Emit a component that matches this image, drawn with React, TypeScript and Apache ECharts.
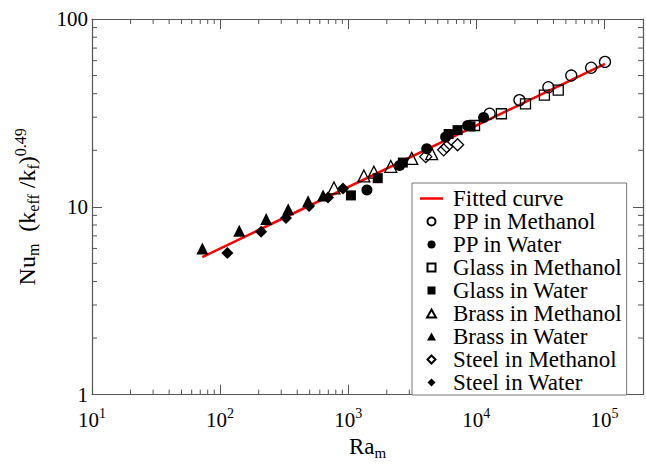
import React, { useEffect, useRef } from "react";
import * as echarts from "echarts";

// ---- Data (Ra_m, Nu_m (k_eff/k_f)^0.49) ----
const ppMethanolRa = [12700, 21700, 36500, 55100, 78800, 101000];
const ppMethanolNu = [31.3, 37.0, 43.3, 50.0, 55.0, 59.1];

const ppWaterRa = [1400, 2520, 4100, 5760, 8550, 11400];
const ppWaterNu = [12.3, 16.6, 20.4, 23.5, 27.1, 29.9];

const glassMethanolRa = [9680, 15700, 24200, 34000, 43600];
const glassMethanolNu = [27.1, 31.3, 35.3, 39.3, 41.8];

const glassWaterRa = [1050, 1700, 2670, 6080, 7140, 9010];
const glassWaterNu = [11.5, 14.2, 17.2, 24.4, 25.6, 26.8];

const brassMethanolRa = [774, 1325, 1585, 2150, 3130, 4480];
const brassMethanolNu = [12.6, 14.6, 15.3, 16.4, 18.1, 19.2];

const brassWaterRa = [72.7, 141, 229, 340, 486, 636];
const brassWaterNu = [6.0, 7.46, 8.61, 9.7, 10.7, 11.5];

const steelMethanolRa = [4030, 5560, 5870, 7140];
const steelMethanolNu = [18.5, 20.1, 20.9, 21.4];

const steelWaterRa = [114, 209, 327, 495, 695, 910];
const steelWaterNu = [5.67, 7.37, 8.71, 10.1, 11.2, 12.5];

const fitRa = [72.6, 101000];
const fitNu = [5.4, 57.7];

// axis tick values
const xDecades = [10, 100, 1000, 10000, 100000];
const yDecades = [1, 10];
const minorMultipliers = [2, 3, 4, 5, 6, 7, 8, 9];

const X_MIN = 10;
const X_MAX = 200000;
const Y_MIN = 1;
const Y_MAX = 100;

const FONT = '"Liberation Serif", "DejaVu Serif", "Times New Roman", serif';
const AXIS_COLOR = "#555";

const ICON_CIRCLE = "path://M0,5 a5,5 0 1,0 10,0 a5,5 0 1,0 -10,0 Z";
const ICON_SQUARE = "path://M0,0 H10 V10 H0 Z";
const ICON_TRIANGLE = "path://M5,0 L10,9 L0,9 Z";
const ICON_DIAMOND = "path://M5,0 L10,5 L5,10 L0,5 Z";
const ICON_LINE = "path://M0,0 H23 V2.5 H0 Z";

const zip = (a: number[], b: number[]) => a.map((v, i) => [v, b[i]]);

export default function App() {
  const ref = useRef<HTMLDivElement>(null);

  useEffect(() => {
    if (!ref.current) return;
    const chart = echarts.init(ref.current, undefined, { renderer: "svg" });

    const xMinor: number[][] = [];
    xDecades.forEach((d) =>
      minorMultipliers.forEach((m) => {
        const v = d * m;
        if (v < X_MAX) xMinor.push([v, Y_MIN]);
      })
    );
    const yMinor: number[][] = [];
    yDecades.forEach((d) =>
      minorMultipliers.forEach((m) => yMinor.push([X_MIN, d * m]))
    );

    const supRich = {
      sup: {
        fontSize: 14,
        fontFamily: FONT,
        color: "#000",
        padding: [0, 0, 12, 0],
      },
    };

    const openStyle = {
      color: "rgba(255,255,255,0)",
      borderColor: "#000",
      borderWidth: 1.3,
      opacity: 1,
    };
    const filledStyle = { color: "#000", borderColor: "#000", borderWidth: 0, opacity: 1 };

    const scatter = (
      name: string,
      xs: number[],
      ys: number[],
      symbol: string,
      size: number,
      open: boolean
    ) => ({
      name,
      type: "scatter",
      data: zip(xs, ys),
      symbol,
      symbolSize: size,
      itemStyle: open ? openStyle : filledStyle,
      emphasis: { disabled: true },
      z: 3,
    });

    const logLabel = (v: number) => {
      const e = Math.log10(v);
      if (Math.abs(e - Math.round(e)) > 1e-6) return "";
      return "10{sup|" + Math.round(e) + "}";
    };

    const option: any = {
      animation: false,
      backgroundColor: "#fff",
      textStyle: { fontFamily: FONT },
      grid: { left: 92, top: 19, right: 3, bottom: 61, containLabel: false },
      xAxis: [
        {
          type: "log",
          logBase: 10,
          min: X_MIN,
          max: X_MAX,
          interval: 1,
          position: "bottom",
          axisLine: { show: true, lineStyle: { color: AXIS_COLOR, width: 1.2 } },
          axisTick: { show: true, inside: true, length: 10, lineStyle: { color: AXIS_COLOR } },
          splitLine: { show: false },
          axisLabel: {
            formatter: logLabel,
            fontSize: 21,
            color: "#000",
            fontFamily: FONT,
            margin: 12,
            showMaxLabel: false,
            rich: supRich,
          },
          name: "Ra{s|m}",
          nameLocation: "middle",
          nameGap: 25,
          nameTextStyle: {
            fontSize: 23,
            color: "#000",
            fontFamily: FONT,
            rich: {
              s: { fontSize: 15, fontFamily: FONT, color: "#000", padding: [12, 0, 0, 0] },
            },
          },
        },
        {
          type: "log",
          logBase: 10,
          min: X_MIN,
          max: X_MAX,
          interval: 1,
          position: "top",
          axisLine: { show: true, lineStyle: { color: AXIS_COLOR, width: 1.2 } },
          axisTick: { show: true, inside: true, length: 10, lineStyle: { color: AXIS_COLOR } },
          splitLine: { show: false },
          axisLabel: { show: false },
        },
      ],
      yAxis: [
        {
          type: "log",
          logBase: 10,
          min: Y_MIN,
          max: Y_MAX,
          interval: 1,
          position: "left",
          axisLine: { show: true, lineStyle: { color: AXIS_COLOR, width: 1.2 } },
          axisTick: { show: true, inside: true, length: 10, lineStyle: { color: AXIS_COLOR } },
          splitLine: { show: false },
          axisLabel: {
            fontSize: 21,
            color: "#000",
            fontFamily: FONT,
            margin: 4,
            formatter: (v: number) => String(Math.round(v)),
          },
          name: "Nu{s|m}  (k{s|eff} /k{s|f}){p|0.49}",
          nameLocation: "middle",
          nameRotate: 90,
          nameGap: 50,
          nameTextStyle: {
            fontSize: 24,
            color: "#000",
            fontFamily: FONT,
            rich: {
              s: { fontSize: 16, fontFamily: FONT, color: "#000", padding: [12, 0, 0, 0] },
              p: { fontSize: 16, fontFamily: FONT, color: "#000", padding: [0, 0, 14, 0] },
            },
          },
        },
        {
          type: "log",
          logBase: 10,
          min: Y_MIN,
          max: Y_MAX,
          interval: 1,
          position: "right",
          axisLine: { show: true, lineStyle: { color: AXIS_COLOR, width: 1.2 } },
          axisTick: { show: true, inside: true, length: 10, lineStyle: { color: AXIS_COLOR } },
          splitLine: { show: false },
          axisLabel: { show: false },
        },
      ],
      legend: {
        orient: "vertical",
        left: 412,
        top: 183,
        padding: [4, 5, 1, 8],
        itemGap: 0,
        itemWidth: 23,
        itemHeight: 8,
        symbolKeepAspect: true,
        borderColor: "#777",
        borderWidth: 1,
        backgroundColor: "#fff",
        textStyle: {
          fontSize: 23,
          lineHeight: 21.75,
          color: "#000",
          fontFamily: FONT,
          padding: [0, 0, 0, 5],
        },
        data: [
          { name: "Fitted curve", icon: ICON_LINE },
          { name: "PP in Methanol", icon: ICON_CIRCLE },
          { name: "PP in Water", icon: ICON_CIRCLE },
          { name: "Glass in Methanol", icon: ICON_SQUARE },
          { name: "Glass in Water", icon: ICON_SQUARE },
          { name: "Brass in Methanol", icon: ICON_TRIANGLE },
          { name: "Brass in Water", icon: ICON_TRIANGLE },
          { name: "Steel in Methanol", icon: ICON_DIAMOND },
          { name: "Steel in Water", icon: ICON_DIAMOND },
        ],
      },
      series: [
        {
          name: "Fitted curve",
          type: "line",
          data: zip(fitRa, fitNu),
          symbol: "none",
          showSymbol: false,
          lineStyle: { color: "#ff0000", width: 2.5 },
          itemStyle: { color: "#ff0000" },
          emphasis: { disabled: true },
          z: 2,
        },
        scatter("PP in Methanol", ppMethanolRa, ppMethanolNu, "circle", 11, true),
        scatter("PP in Water", ppWaterRa, ppWaterNu, "circle", 11, false),
        scatter("Glass in Methanol", glassMethanolRa, glassMethanolNu, "rect", 10, true),
        scatter("Glass in Water", glassWaterRa, glassWaterNu, "rect", 10, false),
        scatter("Brass in Methanol", brassMethanolRa, brassMethanolNu, "triangle", 12, true),
        scatter("Brass in Water", brassWaterRa, brassWaterNu, "triangle", 12, false),
        scatter("Steel in Methanol", steelMethanolRa, steelMethanolNu, "diamond", 12, true),
        scatter("Steel in Water", steelWaterRa, steelWaterNu, "diamond", 12, false),
        {
          type: "custom",
          name: "xMinorTicks",
          silent: true,
          clip: false,
          data: xMinor,
          renderItem: (params: any, api: any) => {
            const v = api.value(0);
            const b = api.coord([v, Y_MIN]);
            const t = api.coord([v, Y_MAX]);
            const st = { stroke: AXIS_COLOR, lineWidth: 1 };
            return {
              type: "group",
              children: [
                { type: "line", shape: { x1: b[0], y1: b[1], x2: b[0], y2: b[1] - 5 }, style: st },
                { type: "line", shape: { x1: t[0], y1: t[1], x2: t[0], y2: t[1] + 5 }, style: st },
              ],
            };
          },
          z: 1,
        },
        {
          type: "custom",
          name: "yMinorTicks",
          silent: true,
          clip: false,
          data: yMinor,
          renderItem: (params: any, api: any) => {
            const v = api.value(1);
            const l = api.coord([X_MIN, v]);
            const r = api.coord([X_MAX, v]);
            const st = { stroke: AXIS_COLOR, lineWidth: 1 };
            return {
              type: "group",
              children: [
                { type: "line", shape: { x1: l[0], y1: l[1], x2: l[0] + 5, y2: l[1] }, style: st },
                { type: "line", shape: { x1: r[0], y1: r[1], x2: r[0] - 5, y2: r[1] }, style: st },
              ],
            };
          },
          z: 1,
        },
      ],
    };

    chart.setOption(option);
    return () => chart.dispose();
  }, []);

  return (
    <div
      ref={ref}
      style={{ position: "fixed", left: 0, top: 0, width: 646, height: 465, background: "#fff" }}
    />
  );
}
